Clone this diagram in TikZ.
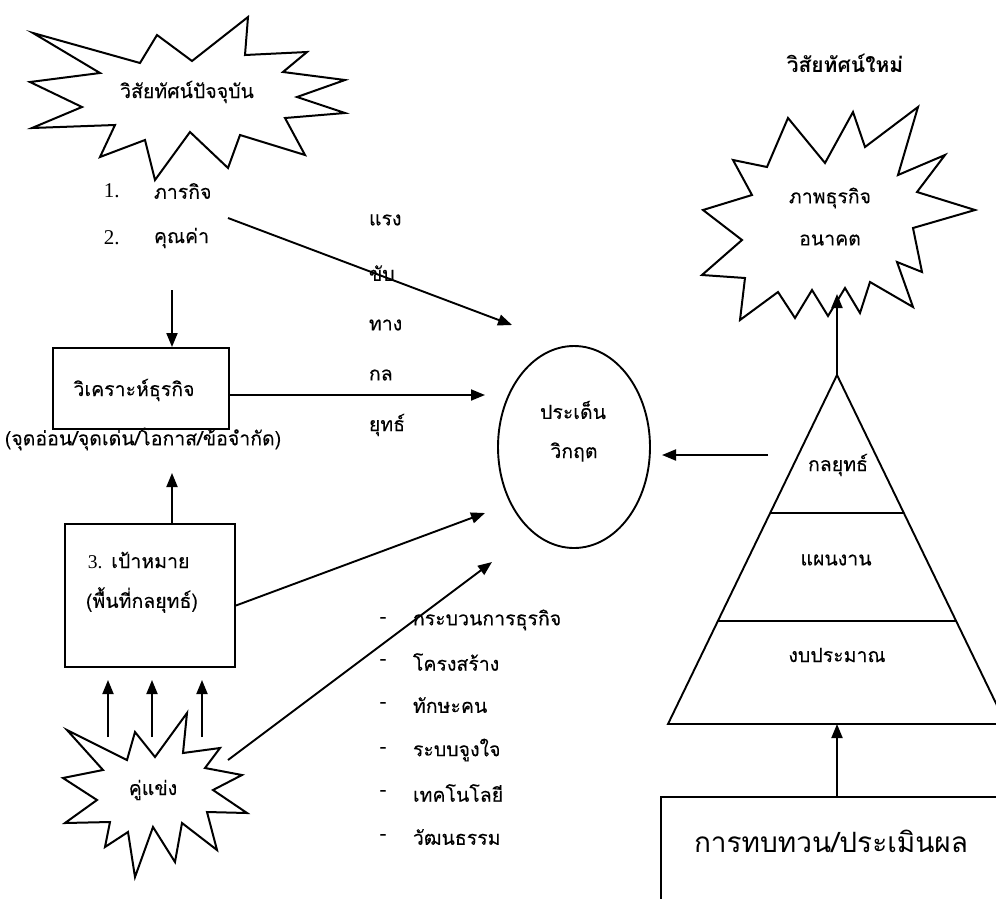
\documentclass[tikz,border=0pt]{standalone}
\usepackage{fontspec}
\setmainfont{Liberation Serif}
\newfontfamily\thai[Script=Thai,FakeBold=0.15]{Loma}
\newfontfamily\thaiplain[Script=Thai]{Loma}
\usetikzlibrary{arrows.meta,shapes.geometric}
\begin{document}
\begin{tikzpicture}[x=1pt,y=-1pt,
  line width=1.9pt,
  link/.style={-{Triangle[length=14pt,width=11pt]}, line width=1.9pt},
  outline/.style={draw, line width=2pt, line join=miter},
  txt/.style={font=\thai\fontsize{19.5}{22}\selectfont, inner sep=0pt},
  numtxt/.style={font=\rmfamily\fontsize{21}{24}\selectfont, inner sep=0pt},
  headtxt/.style={font=\thaiplain\bfseries\fontsize{21}{24}\selectfont, inner sep=0pt},
  bigtxt/.style={font=\thaiplain\fontsize{28}{32}\selectfont, inner sep=0pt},
  frame/.style={draw, line width=1.9pt, inner sep=0pt},
]
\useasboundingbox (0,0) rectangle (996,898);
\fill[white] (0,0) rectangle (996,898);
\clip (0,0) rectangle (996,898);

% ---------- present vision (starburst) ----------
\draw[outline] (33,33) -- (140,63) -- (157,35) -- (192,61) -- (248,17) -- (245,55)
  -- (307,52) -- (283,72) -- (345,80) -- (297,97) -- (345,113) -- (285,118)
  -- (305,155) -- (240,135) -- (228,168) -- (190,132) -- (155,180) -- (145,140)
  -- (100,157) -- (115,125) -- (32,128) -- (82,107) -- (30,82) -- (100,73) -- cycle;
\node[txt] (nowvision) at (187,92) {วิสัยทัศน์ปัจจุบัน};

\node[numtxt, anchor=west] (num1) at (103,191) {1.};
\node[txt, anchor=west] (mission) at (153,191) {ภารกิจ};
\node[numtxt, anchor=west] (num2) at (103,238) {2.};
\node[txt, anchor=west] (values) at (153,238) {คุณค่า};

% ---------- business analysis ----------
\node[frame, minimum width=176pt, minimum height=81pt] (analysis) at (141,388.5) {};
\node[txt] (analysistxt) at (134,390) {วิเคราะห์ธุรกิจ};
\node[txt] (swot) at (143,439) {(จุดอ่อน/จุดเด่น/โอกาส/ข้อจำกัด)};

% ---------- goals ----------
\node[frame, minimum width=170pt, minimum height=143pt] (goalbox) at (150,595.5) {};
\node[txt, anchor=west] (goal1) at (87,560) {{\rmfamily 3.} เป้าหมาย};
\node[txt, anchor=west] (goal2) at (85,600) {(พื้นที่กลยุทธ์)};

% ---------- competitors (starburst) ----------
\draw[outline] (67,730) -- (127,760) -- (135,732) -- (155,757) -- (187,713) -- (183,753)
  -- (220,748) -- (205,768) -- (242,775) -- (213,790) -- (247,813) -- (207,812)
  -- (217,850) -- (182,823) -- (175,862) -- (153,827) -- (135,877) -- (128,832)
  -- (105,847) -- (110,822) -- (65,823) -- (97,800) -- (63,778) -- (103,770) -- cycle;
\node[txt] (rival) at (153,790) {คู่แข่ง};

% ---------- strategic drivers ----------
\node[txt, anchor=west] (drv1) at (368,220) {แรง};
\node[txt, anchor=west] (drv2) at (368,273) {ขับ};
\node[txt, anchor=west] (drv3) at (368,325) {ทาง};
\node[txt, anchor=west] (drv4) at (368,375) {กล};
\node[txt, anchor=west] (drv5) at (368,425) {ยุทธ์};

% ---------- critical issues ----------
\node[draw, ellipse, line width=1.9pt, minimum width=152pt, minimum height=202pt] (crisis) at (574,447) {};
\node[txt] (crisis1) at (573,410) {ประเด็น};
\node[txt] (crisis2) at (574,452) {วิกฤต};

% ---------- organisational factors ----------
\foreach \y/\t [count=\i] in {620/กระบวนการธุรกิจ, 662/โครงสร้าง, 705/ทักษะคน, 750/ระบบจูงใจ, 793/เทคโนโลยี, 837/วัฒนธรรม}{
  \node[txt] (dash\i) at (383,\y) {-};
  \node[txt, anchor=west] (factor\i) at (412,\y) {\t};
}

% ---------- new vision ----------
\node[headtxt] (newvision) at (845,63) {วิสัยทัศน์ใหม่};
\draw[outline] (788,118) -- (825,163) -- (853,112) -- (865,147) -- (918,107) -- (898,175)
  -- (945,155) -- (917,192) -- (975,210) -- (913,228) -- (922,272) -- (897,262)
  -- (913,307) -- (870,282) -- (860,313) -- (845,288) -- (828,316) -- (812,290)
  -- (795,318) -- (778,292) -- (740,320) -- (745,278) -- (702,275) -- (742,240)
  -- (703,210) -- (752,195) -- (733,160) -- (767,167) -- cycle;
\node[txt] (future1) at (830,198) {ภาพธุรกิจ};
\node[txt] (future2) at (830,240) {อนาคต};

% ---------- pyramid ----------
\coordinate (apex) at (837,375);
\coordinate (baseL) at (668,724);
\coordinate (baseR) at (1006,724);
\draw[line width=1.9pt, line join=miter] (baseL) -- (apex) -- (baseR) -- cycle;
\draw[line width=1.9pt] (770,513) -- (904,513);
\draw[line width=1.9pt] (718,621) -- (956,621);
\node[txt] (tier1) at (838,465) {กลยุทธ์};
\node[txt] (tier2) at (836,560) {แผนงาน};
\node[txt] (tier3) at (837,655) {งบประมาณ};

% ---------- review ----------
\node[frame, anchor=north west, minimum width=360pt, minimum height=120pt] (review) at (660,796) {};
\node[bigtxt] (reviewtxt) at (831,841) {การทบทวน/ประเมินผล};

% ---------- connectors ----------
\coordinate (valuesout) at (228,218);
\coordinate (crisisNW) at (512,325);
\coordinate (listout) at (172,290);
\coordinate (swotin) at (172,473);
\coordinate (analysisin) at (485,395);
\coordinate (goalin) at (485,513);
\coordinate (rivalout) at (228,760);
\coordinate (rivalin) at (492,562);
\coordinate (pyout) at (768,455);
\coordinate (pyin) at (662,455);
\coordinate (futurein) at (837,294);
\coordinate (basein) at (837,724);

\draw[link] (valuesout) -- (crisisNW);
\draw[link] (listout) -- (listout |- analysis.north);
\draw[link] (swotin |- goalbox.north) -- (swotin);
\draw[link] (analysis.east |- analysisin) -- (analysisin);
\draw[link] ([yshift=-10pt]goalbox.east) -- (goalin);
\draw[link] (rivalout) -- (rivalin);
\foreach \x [count=\i] in {108,152,202}{
  \coordinate (rivalup\i) at (\x,737);
  \draw[link] (rivalup\i) -- (rivalup\i |- 0,680);
}
\draw[link] (pyout) -- (pyin);
\draw[link] (apex) -- (futurein);
\draw[link] (review.north -| basein) -- (basein);
\end{tikzpicture}
\end{document}
